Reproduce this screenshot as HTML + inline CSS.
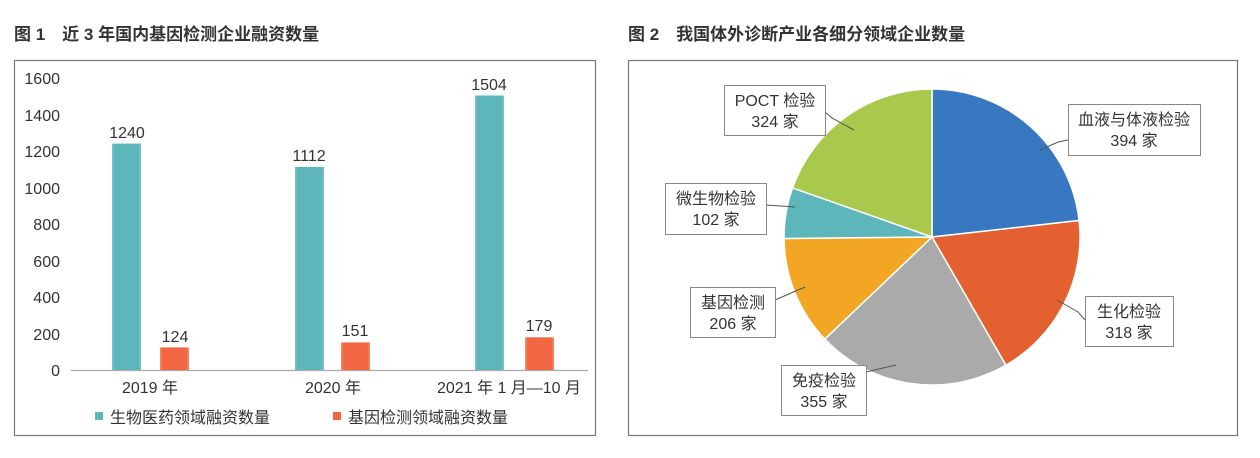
<!DOCTYPE html>
<html><head><meta charset="utf-8"><style>
body{margin:0;background:#fff;width:1260px;height:453px;overflow:hidden}
svg text{font-family:"Liberation Sans","Noto Sans CJK SC",sans-serif;fill:#333}
</style></head><body>
<svg width="1260" height="453" viewBox="0 0 1260 453">
<defs>
<linearGradient id="tg" x1="0" y1="0" x2="1" y2="0"><stop offset="0" stop-color="#7cc5c8"/><stop offset="0.1" stop-color="#5cb6ba"/><stop offset="0.9" stop-color="#5cb6ba"/><stop offset="1" stop-color="#7cc5c8"/></linearGradient>
<linearGradient id="og" x1="0" y1="0" x2="1" y2="0"><stop offset="0" stop-color="#f58a6a"/><stop offset="0.1" stop-color="#f26742"/><stop offset="0.9" stop-color="#f26742"/><stop offset="1" stop-color="#f58a6a"/></linearGradient>
</defs>
<text x="14" y="40" font-size="17" font-weight="600" fill="#222">图 1　近 3 年国内基因检测企业融资数量</text>
<text x="628" y="40" font-size="17" font-weight="600" fill="#222">图 2　我国体外诊断产业各细分领域企业数量</text>
<rect x="14.5" y="60.5" width="581" height="375" fill="none" stroke="#777" stroke-width="1.2"/>
<rect x="628.5" y="60.5" width="609" height="375" fill="none" stroke="#777" stroke-width="1.2"/>
<g font-size="16" text-anchor="end">
<text x="60" y="84">1600</text><text x="60" y="121">1400</text><text x="60" y="157">1200</text><text x="60" y="194">1000</text>
<text x="60" y="230">800</text><text x="60" y="267">600</text><text x="60" y="303">400</text><text x="60" y="340">200</text><text x="60" y="376">0</text>
</g>
<line x1="71" y1="370.5" x2="588" y2="370.5" stroke="#aaa" stroke-width="1.2"/>
<rect x="112" y="143.6" width="29" height="226.4" fill="url(#tg)"/>
<rect x="295" y="167" width="29" height="203" fill="url(#tg)"/>
<rect x="475" y="95.5" width="29" height="274.5" fill="url(#tg)"/>
<rect x="160" y="347.4" width="29" height="22.6" fill="url(#og)"/>
<rect x="341" y="342.4" width="29" height="27.6" fill="url(#og)"/>
<rect x="525" y="337.3" width="29" height="32.7" fill="url(#og)"/>
<g font-size="16" text-anchor="middle">
<text x="127" y="138">1240</text><text x="309" y="161">1112</text><text x="489" y="90">1504</text>
<text x="175" y="342">124</text><text x="355" y="336">151</text><text x="539" y="331">179</text>
<text x="150" y="393">2019 年</text><text x="333" y="393">2020 年</text><text x="509" y="393">2021 年 1 月—10 月</text>
</g>
<rect x="95" y="412" width="8" height="8" fill="#5cb6ba"/>
<text x="110" y="423" font-size="16">生物医药领域融资数量</text>
<rect x="333" y="412" width="8" height="8" fill="#f26742"/>
<text x="348" y="423" font-size="16">基因检测领域融资数量</text>
<g stroke="#fff" stroke-width="1.5">
<path d="M932,237 L932,89 A148,148 0 0 1 1079.1,220.5 Z" fill="#3878c0"/>
<path d="M932,237 L1079.1,220.5 A148,148 0 0 1 1005.9,365.2 Z" fill="#e56030"/>
<path d="M932,237 L1005.9,365.2 A148,148 0 0 1 824.8,339.1 Z" fill="#aaaaaa"/>
<path d="M932,237 L824.8,339.1 A148,148 0 0 1 784.0,238.5 Z" fill="#f2a623"/>
<path d="M932,237 L784.0,238.5 A148,148 0 0 1 792.6,187.9 Z" fill="#5cb6ba"/>
<path d="M932,237 L792.6,187.9 A148,148 0 0 1 932,89 Z" fill="#a8c94c"/>
</g>
<g stroke="#555" stroke-width="1" fill="none">
<polyline points="825,112 832,118 854,130"/>
<polyline points="1068,140 1058,142 1040,150"/>
<polyline points="766,205 795,207"/>
<polyline points="775,300 805,287"/>
<polyline points="866,372 896,365"/>
<polyline points="1085,320 1078,312 1057,300"/>
</g>
<g fill="#fff" stroke="#888" stroke-width="1">
<rect x="724.5" y="85.5" width="101" height="50"/>
<rect x="1068.5" y="104.5" width="132" height="51"/>
<rect x="665.5" y="183.5" width="101" height="51"/>
<rect x="690.5" y="287.5" width="85" height="50"/>
<rect x="781.5" y="365.5" width="85" height="50"/>
<rect x="1085.5" y="296.5" width="88" height="50"/>
</g>
<g font-size="16" text-anchor="middle">
<text x="775" y="106">POCT 检验</text><text x="775" y="127">324 家</text>
<text x="1134" y="125">血液与体液检验</text><text x="1134" y="146">394 家</text>
<text x="716" y="204">微生物检验</text><text x="716" y="225">102 家</text>
<text x="733" y="308">基因检测</text><text x="733" y="329">206 家</text>
<text x="824" y="386">免疫检验</text><text x="824" y="407">355 家</text>
<text x="1129" y="317">生化检验</text><text x="1129" y="338">318 家</text>
</g>
</svg>
</body></html>
